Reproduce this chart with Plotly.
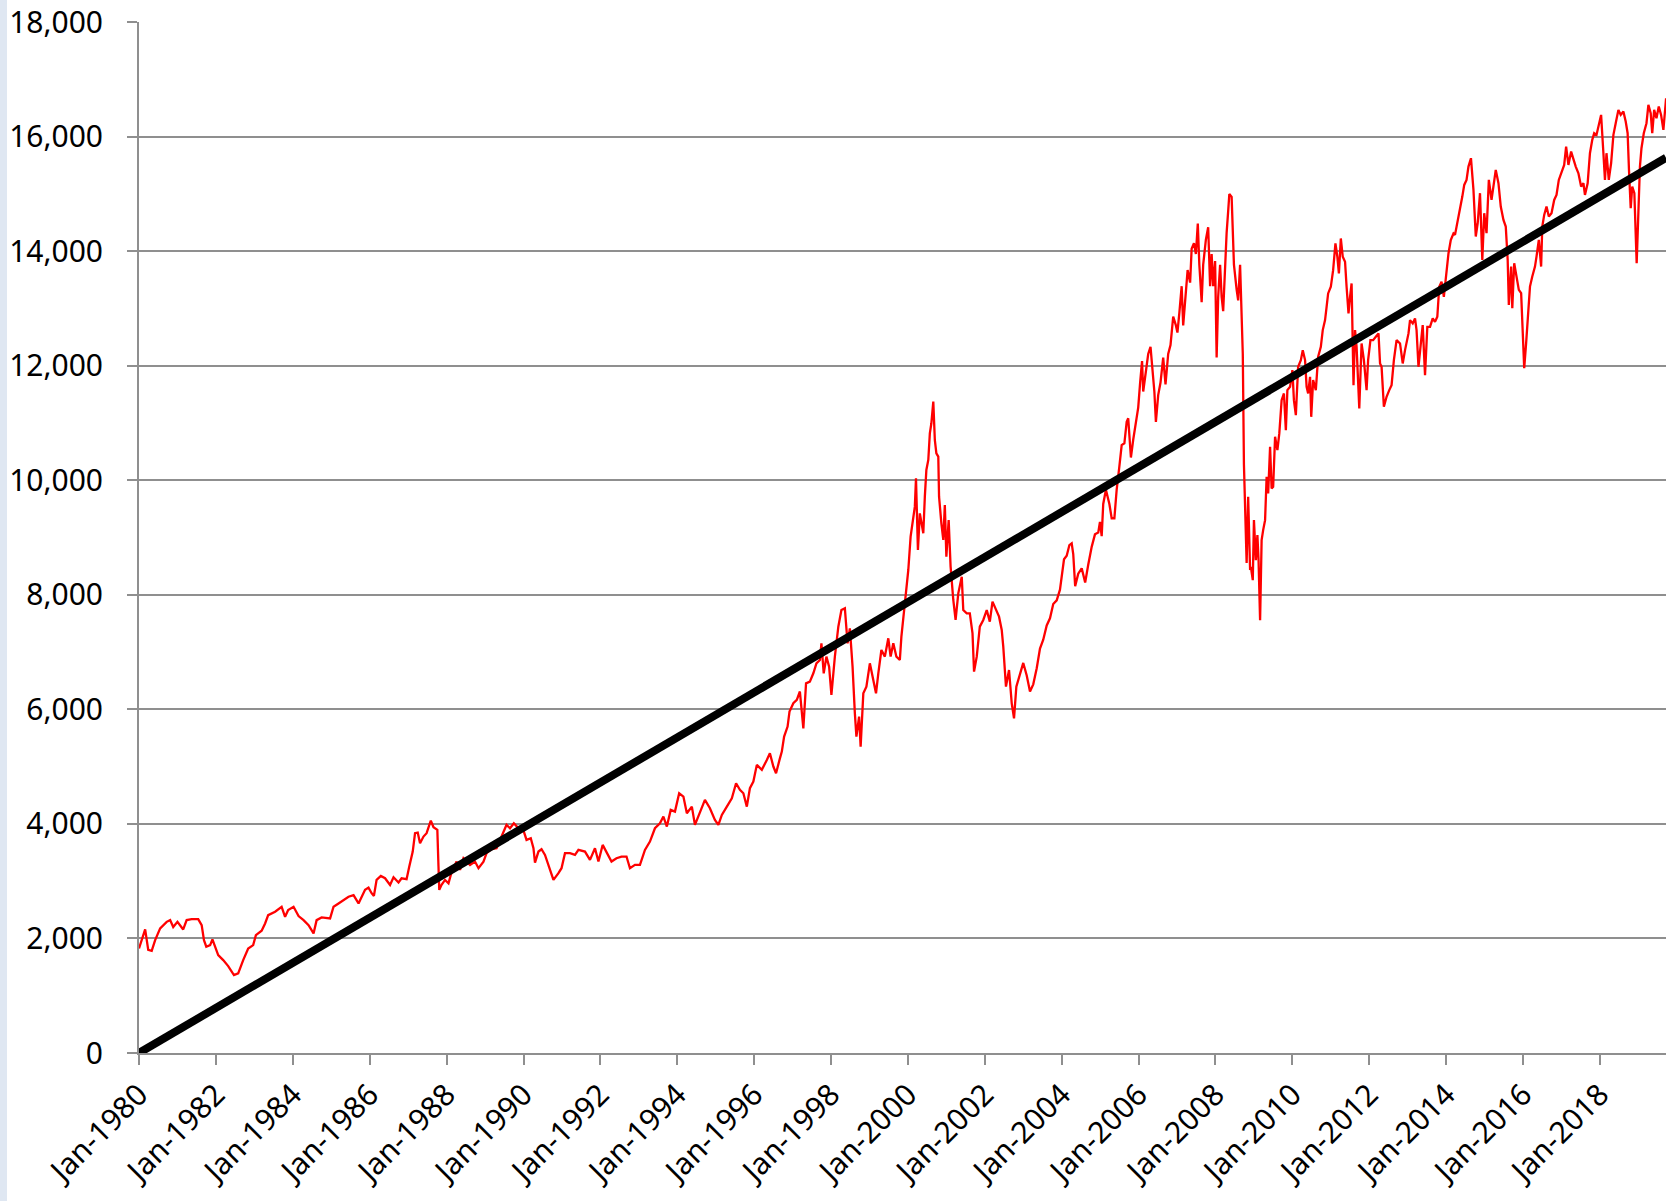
import datetime as dt
import plotly.graph_objects as go

# Index level: (decimal year, value)
years = [
    1980.00, 1980.16, 1980.24, 1980.33, 1980.42, 1980.55, 1980.72, 1980.81, 1980.89, 1981.00,
    1981.15, 1981.24, 1981.37, 1981.54, 1981.63, 1981.69, 1981.75, 1981.85, 1981.91, 1981.98,
    1982.06, 1982.19, 1982.32, 1982.47, 1982.58, 1982.71, 1982.84, 1982.97, 1983.04, 1983.19,
    1983.28, 1983.36, 1983.54, 1983.71, 1983.80, 1983.88, 1984.02, 1984.15, 1984.28, 1984.41,
    1984.54, 1984.62, 1984.75, 1984.97, 1985.06, 1985.19, 1985.32, 1985.45, 1985.58, 1985.71,
    1985.88, 1985.97, 1986.05, 1986.11, 1986.18, 1986.29, 1986.40, 1986.53, 1986.62, 1986.75,
    1986.83, 1986.96, 1987.03, 1987.12, 1987.18, 1987.25, 1987.31, 1987.40, 1987.48, 1987.59,
    1987.66, 1987.76, 1987.79, 1987.81, 1987.87, 1987.96, 1988.05, 1988.11, 1988.26, 1988.35,
    1988.44, 1988.61, 1988.74, 1988.83, 1988.96, 1989.04, 1989.17, 1989.30, 1989.43, 1989.56,
    1989.65, 1989.75, 1989.87, 1990.01, 1990.08, 1990.19, 1990.26, 1990.30, 1990.39, 1990.47,
    1990.56, 1990.65, 1990.78, 1990.91, 1990.99, 1991.08, 1991.21, 1991.34, 1991.43, 1991.60,
    1991.73, 1991.86, 1991.95, 1992.06, 1992.16, 1992.29, 1992.42, 1992.55, 1992.68, 1992.77,
    1992.90, 1993.03, 1993.16, 1993.29, 1993.42, 1993.55, 1993.64, 1993.73, 1993.83, 1993.94,
    1994.05, 1994.16, 1994.25, 1994.38, 1994.46, 1994.59, 1994.72, 1994.85, 1994.98, 1995.07,
    1995.16, 1995.29, 1995.42, 1995.53, 1995.63, 1995.72, 1995.81, 1995.89, 1995.98, 1996.07,
    1996.20, 1996.33, 1996.41, 1996.50, 1996.57, 1996.66, 1996.72, 1996.78, 1996.87, 1996.92,
    1997.02, 1997.11, 1997.19, 1997.28, 1997.35, 1997.45, 1997.54, 1997.62, 1997.71, 1997.75,
    1997.81, 1997.88, 1997.95, 1998.01, 1998.10, 1998.19, 1998.27, 1998.36, 1998.43, 1998.49,
    1998.56, 1998.62, 1998.66, 1998.73, 1998.77, 1998.84, 1998.92, 1999.01, 1999.10, 1999.17,
    1999.23, 1999.31, 1999.40, 1999.49, 1999.55, 1999.62, 1999.70, 1999.79, 1999.83, 1999.89,
    1999.94, 2000.01, 2000.07, 2000.12, 2000.18, 2000.21, 2000.26, 2000.31, 2000.40, 2000.44,
    2000.48, 2000.53, 2000.57, 2000.61, 2000.66, 2000.70, 2000.74, 2000.79, 2000.81, 2000.87,
    2000.92, 2000.96, 2001.00, 2001.06, 2001.11, 2001.18, 2001.24, 2001.31, 2001.40, 2001.44,
    2001.53, 2001.61, 2001.68, 2001.72, 2001.79, 2001.87, 2001.96, 2002.05, 2002.13, 2002.20,
    2002.29, 2002.37, 2002.44, 2002.48, 2002.55, 2002.63, 2002.70, 2002.76, 2002.82, 2002.91,
    2003.00, 2003.09, 2003.175, 2003.26, 2003.35, 2003.435, 2003.52, 2003.61, 2003.695, 2003.78,
    2003.87, 2003.955, 2004.00, 2004.06, 2004.13, 2004.20, 2004.26, 2004.30, 2004.35, 2004.43,
    2004.52, 2004.61, 2004.69, 2004.78, 2004.865, 2004.95, 2004.995, 2005.04, 2005.08, 2005.15,
    2005.24, 2005.30, 2005.37, 2005.43, 2005.50, 2005.56, 2005.63, 2005.69, 2005.73, 2005.80,
    2005.86, 2005.93, 2005.99, 2006.04, 2006.09, 2006.12, 2006.19, 2006.25, 2006.31, 2006.37,
    2006.41, 2006.45, 2006.51, 2006.57, 2006.64, 2006.70, 2006.77, 2006.83, 2006.90, 2006.97,
    2007.01, 2007.06, 2007.12, 2007.16, 2007.21, 2007.275, 2007.34, 2007.38, 2007.44, 2007.49,
    2007.54, 2007.58, 2007.64, 2007.68, 2007.75, 2007.81, 2007.86, 2007.90, 2007.94, 2007.99,
    2008.03, 2008.07, 2008.12, 2008.16, 2008.20, 2008.25, 2008.29, 2008.33, 2008.36, 2008.42,
    2008.48, 2008.55, 2008.59, 2008.64, 2008.68, 2008.71, 2008.74, 2008.78, 2008.81, 2008.85,
    2008.90, 2008.92, 2008.97, 2009.00, 2009.05, 2009.09, 2009.12, 2009.16, 2009.20, 2009.24,
    2009.29, 2009.33, 2009.37, 2009.42, 2009.46, 2009.50, 2009.55, 2009.61, 2009.66, 2009.72,
    2009.78, 2009.83, 2009.87, 2009.94, 2010.00, 2010.04, 2010.09, 2010.15, 2010.22, 2010.27,
    2010.33, 2010.37, 2010.41, 2010.46, 2010.49, 2010.54, 2010.61, 2010.67, 2010.74, 2010.79,
    2010.85, 2010.89, 2010.93, 2011.00, 2011.06, 2011.12, 2011.17, 2011.21, 2011.26, 2011.31,
    2011.37, 2011.41, 2011.46, 2011.50, 2011.54, 2011.59, 2011.63, 2011.67, 2011.74, 2011.80,
    2011.86, 2011.93, 2011.97, 2012.03, 2012.10, 2012.17, 2012.24, 2012.28, 2012.32, 2012.38,
    2012.45, 2012.52, 2012.58, 2012.64, 2012.71, 2012.80, 2012.87, 2012.93, 2013.02, 2013.06,
    2013.13, 2013.19, 2013.23, 2013.28, 2013.34, 2013.39, 2013.45, 2013.51, 2013.58, 2013.65,
    2013.71, 2013.77, 2013.82, 2013.88, 2013.94, 2013.99, 2014.06, 2014.12, 2014.19, 2014.23,
    2014.30, 2014.36, 2014.42, 2014.47, 2014.53, 2014.58, 2014.645, 2014.71, 2014.77, 2014.82,
    2014.88, 2014.94, 2014.99, 2015.05, 2015.11, 2015.18, 2015.23, 2015.29, 2015.36, 2015.42,
    2015.49, 2015.55, 2015.60, 2015.63, 2015.69, 2015.72, 2015.77, 2015.83, 2015.89, 2015.95,
    2015.99, 2016.03, 2016.08, 2016.12, 2016.18, 2016.24, 2016.31, 2016.35, 2016.41, 2016.47,
    2016.50, 2016.55, 2016.61, 2016.67, 2016.74, 2016.81, 2016.87, 2016.93, 2017.00, 2017.07,
    2017.12, 2017.18, 2017.25, 2017.31, 2017.37, 2017.44, 2017.51, 2017.57, 2017.61, 2017.68,
    2017.74, 2017.80, 2017.85, 2017.91, 2017.97, 2018.03, 2018.09, 2018.13, 2018.17, 2018.23,
    2018.29, 2018.35, 2018.41, 2018.48, 2018.54, 2018.61, 2018.67, 2018.72, 2018.755, 2018.80,
    2018.84, 2018.895, 2018.955, 2019.00, 2019.04, 2019.08, 2019.14, 2019.21, 2019.26, 2019.32,
    2019.36, 2019.41, 2019.47, 2019.53, 2019.59, 2019.65, 2019.72,
]

index_values = [
    1825, 2157, 1800, 1785, 1970, 2175, 2290, 2320, 2200, 2290,
    2157, 2320, 2338, 2338, 2233, 1970, 1855, 1884, 1983, 1866,
    1709, 1622, 1517, 1360, 1389, 1622, 1825, 1884, 2058, 2134,
    2262, 2407, 2466, 2553, 2378, 2495, 2553, 2390, 2320, 2233,
    2087, 2320, 2367, 2349, 2553, 2611, 2669, 2728, 2757, 2611,
    2848, 2888, 2790, 2743, 3022, 3092, 3051, 2935, 3069, 2976,
    3051, 3034, 3255, 3517, 3837, 3849, 3662, 3779, 3837, 4058,
    3942, 3895, 3255, 2848, 2935, 3022, 2964, 3110, 3342, 3197,
    3401, 3284, 3342, 3226, 3342, 3488, 3558, 3575, 3779, 3983,
    3924, 4012, 3924, 3866, 3721, 3750, 3575, 3325, 3517, 3558,
    3459, 3284, 3022, 3139, 3226, 3488, 3488, 3459, 3546, 3517,
    3371, 3575, 3342, 3633, 3517, 3342, 3400, 3430, 3430, 3226,
    3284, 3284, 3546, 3692, 3924, 4012, 4128, 3953, 4244, 4215,
    4535, 4477, 4186, 4302, 3983, 4186, 4419, 4273, 4070, 3983,
    4157, 4302, 4448, 4710, 4594, 4535, 4302, 4623, 4739, 5030,
    4943, 5117, 5234, 5001, 4885, 5117, 5263, 5525, 5699, 5961,
    6107, 6165, 6311, 5668, 6454, 6483, 6629, 6803, 6861, 7152,
    6629, 6920, 6745, 6250, 6920, 7443, 7734, 7763, 7152, 7414,
    6745, 5930, 5523, 5872, 5348, 6279, 6396, 6803, 6512, 6279,
    6629, 7036, 6920, 7240, 6920, 7152, 6920, 6861, 7269, 7676,
    8025, 8433, 9015, 9248, 9539, 10033, 8782, 9422, 9073, 9713,
    10179, 10354, 10819, 10994, 11372, 10703, 10470, 10412, 9713, 9248,
    8957, 9568, 8666, 9306, 8491, 7909, 7560, 8025, 8316, 7734,
    7676, 7676, 7327, 6658, 6920, 7443, 7560, 7734, 7530, 7880,
    7734, 7618, 7385, 7094, 6396, 6687, 6105, 5843, 6396, 6629,
    6810, 6592, 6312, 6436, 6717, 7060, 7216, 7465, 7590, 7839,
    7902, 8089, 8369, 8619, 8681, 8868, 8899, 8712, 8151, 8369,
    8463, 8213, 8525, 8837, 9055, 9086, 9273, 9024, 9585, 9834,
    9585, 9336, 9336, 9834, 10240, 10614, 10645, 11019, 11081, 10396,
    10707, 11050, 11268, 11705, 12079, 11549, 11923, 12204, 12329, 11892,
    11549, 11019, 11487, 11705, 12141, 11674, 12204, 12360, 12858, 12703,
    12578, 12921, 13388, 12703, 13201, 13669, 13450, 14043, 14137, 13950,
    14480, 13762, 13108, 13762, 14199, 14417, 13388, 13950, 13388, 13825,
    12141, 13201, 13762, 13201, 12952, 13887, 14324, 14698, 14997, 14947,
    13762, 13326, 13139, 13762, 12640, 12204, 10271, 9086, 8556, 9710,
    8432, 8488, 8256, 9303, 8605, 9041, 8605, 7557, 8954, 9129,
    9303, 10060, 9769, 10584, 9857, 9885, 10758, 10525, 10817, 11398,
    11515, 10875, 11573, 11631, 11922, 11398, 11137, 11980, 12097, 12271,
    12097, 11631, 11515, 11806, 11107, 11748, 11573, 12155, 12330, 12621,
    12795, 13028, 13261, 13377, 13668, 14134, 13901, 13610, 14221, 13901,
    13814, 13377, 12912, 13203, 13435, 11660, 12621, 12330, 11253, 12388,
    12097, 11573, 12097, 12446, 12446, 12504, 12563, 12039, 11980, 11282,
    11457, 11573, 11660, 12097, 12446, 12388, 12039, 12271, 12563, 12795,
    12737, 12824, 12621, 11980, 12446, 12708, 11835, 12679, 12679, 12824,
    12766, 12853, 13377, 13465, 13203, 13494, 13959, 14192, 14308, 14283,
    14516, 14720, 14952, 15156, 15243, 15476, 15622, 15069, 14254, 14487,
    15011, 13847, 14661, 14312, 15243, 14894, 15127, 15418, 15185, 14778,
    14545, 14429, 13847, 13061, 13730, 13003, 13788, 13556, 13323, 13265,
    12683, 11955, 12392, 12857, 13381, 13556, 13730, 13905, 14196, 13730,
    14429, 14632, 14778, 14603, 14661, 14894, 14981, 15243, 15360, 15505,
    15825, 15505, 15738, 15593, 15476, 15360, 15127, 15185, 14981, 15185,
    15709, 15942, 16058, 16029, 16233, 16378, 15709, 15243, 15709, 15243,
    15534, 16029, 16233, 16466, 16378, 16436, 16262, 16058, 15418, 14749,
    15127, 15011, 13788, 14778, 15476, 15796, 16058, 16233, 16553, 16407,
    16058, 16466, 16320, 16524, 16378, 16116, 16669,
]

# Straight trend line
trend_dates = ["1980-01-01", "2019-09-20"]
trend_values = [0, 15630]

x_range = ["1980-01-01", "2019-09-20"]
y_ticks = list(range(0, 18001, 2000))


def year_to_date(y):
    base = dt.datetime(1980, 1, 1)
    return base + dt.timedelta(days=(y - 1980.0) * 365.25)


dates = [year_to_date(y) for y in years]

GRID = "#8f8f8f"
FONT = dict(family="Noto Sans, Open Sans, sans-serif", size=30, color="#000000")

fig = go.Figure()
fig.add_trace(go.Scatter(x=dates, y=index_values, mode="lines",
                         line=dict(color="#ff0000", width=2.3), showlegend=False))
fig.add_trace(go.Scatter(x=trend_dates, y=trend_values, mode="lines",
                         line=dict(color="#000000", width=8), showlegend=False))

fig.update_layout(
    width=1666, height=1201,
    margin=dict(l=139, r=0, t=22, b=148),
    paper_bgcolor="white", plot_bgcolor="white",
    font=FONT,
    showlegend=False,
)
fig.update_xaxes(
    type="date", range=x_range,
    tick0="1980-01-01", dtick="M24", tickformat="%b-%Y",
    tickangle=-45, ticks="outside", ticklen=10, tickwidth=2, tickcolor=GRID,
    showgrid=False, showline=True, linecolor=GRID, linewidth=2,
    tickfont=FONT, zeroline=False,
)
fig.update_yaxes(
    range=[0, 18000], tickvals=y_ticks, tickformat=",",
    ticks="outside", ticklen=10, tickwidth=2, tickcolor=GRID,
    showgrid=True, gridcolor=GRID, gridwidth=1.5,
    showline=True, linecolor=GRID, linewidth=2,
    tickfont=FONT, zeroline=False, ticklabelstandoff=18,
)

# light window edge on the far left
fig.add_shape(type="rect", xref="paper", yref="paper",
              x0=-139 / 1527, x1=-132 / 1527, y0=-148 / 1031, y1=1 + 22 / 1031,
              fillcolor="#dfe7f2", line=dict(width=0), layer="below")

fig.write_html(
    "out.html",
    config={"displayModeBar": False},
    post_script="document.body.style.margin='0';document.body.style.padding='0';",
)
